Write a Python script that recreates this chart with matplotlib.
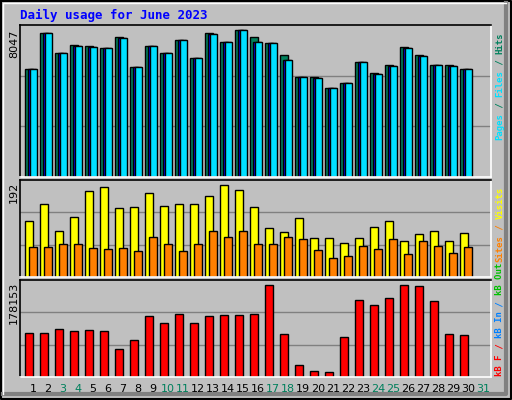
import matplotlib
matplotlib.use("Agg")
import matplotlib.pyplot as plt
import numpy as np

days = list(range(1, 31))
hits  = [5800, 7680, 6610, 7040, 6980, 6880, 7460, 5900, 6980, 6610, 7300, 6340,
         7680, 7200, 7840, 7460, 7140, 6500, 5330, 5330, 4740, 5010, 6130, 5540,
         5970, 6930, 6500, 5970, 5970, 5800]
files = [5800, 7680, 6610, 6990, 6930, 6880, 7410, 5900, 6980, 6610, 7300, 6340,
         7630, 7200, 7840, 7200, 7140, 6240, 5330, 5280, 4740, 5010, 6130, 5490,
         5920, 6880, 6450, 5970, 5920, 5750]
pages = files
visits = [112, 146, 92, 120, 172, 180, 138, 140, 168, 142, 146, 146,
          162, 184, 174, 140, 98, 90, 118, 78, 78, 68, 78, 100, 112, 72, 86, 92, 72, 88]
sites  = [59, 59, 66, 66, 57, 55, 57, 51, 79, 66, 51, 65,
          92, 79, 92, 65, 66, 79, 76, 53, 37, 41, 61, 55, 75, 45, 71, 61, 47, 59]
kbytes = [81000, 81000, 89700, 84700, 87800, 84700, 51100, 68000, 112600, 99500, 116300, 99500,
          112600, 114400, 114400, 116300, 170700, 79100, 21800, 10600, 8700, 74100, 143100, 133800,
          146900, 170700, 168800, 141300, 79100, 77200]
all_days = list(range(1, 32))
weekend = [3, 4, 10, 11, 17, 18, 24, 25, 31]

BG = "#c0c0c0"
W, H = 512, 400
fig = plt.figure(figsize=(W / 100, H / 100), dpi=100, facecolor=BG)

def px(x0, y0, x1, y1):
    return [x0 / W, 1 - y1 / H, (x1 - x0) / W, (y1 - y0) / H]

u = 1 / 15.0  # one pixel in day units
x0d = 1 - 5 * u
x1d = x0d + 471 * u
d = np.array(days)

def panel(y0, y1, ymax):
    ax = fig.add_axes(px(20, y0, 491, y1))
    ax.set_facecolor(BG)
    ax.set_xlim(x0d, x1d)
    ax.set_ylim(0, ymax)
    ax.set_xticks([]); ax.set_yticks([])
    for s in ax.spines.values():
        s.set_color("black"); s.set_linewidth(1.2)
    ax.spines["right"].set_color("white"); ax.spines["bottom"].set_color("white")
    for f in (1 / 3, 2 / 3):
        ax.axhline(ymax * f, color="#808080", lw=1, zorder=0)
    return ax

kw = dict(align="edge", edgecolor="black", linewidth=1)
top_max = 8047
ax1 = panel(25, 177, top_max * 1.01)
ax1.bar(d, hits, width=8 * u, color="#00805c", **kw)
ax1.bar(d + 3 * u, pages, width=8 * u, color="#0000ff", **kw)
ax1.bar(d + 5 * u, files, width=7 * u, color="#00e0ff", **kw)

ax2 = panel(180, 277, 192 * 1.01)
ax2.bar(d, visits, width=8 * u, color="#ffff00", **kw)
ax2.bar(d + 4 * u, sites, width=8 * u, color="#ff8000", **kw)

ax3 = panel(280, 377, 178153 * 1.01)
ax3.bar(d, kbytes, width=8 * u, color="#ff0000", **kw)

for x, day in zip(all_days, all_days):
    xf = (20 + (x - x0d) / u + 8) / W
    fig.text(xf, 1 - 389 / H, str(day), ha="center", va="center", fontsize=8,
             color="#00805c" if day in weekend else "black")

fig.text(20 / W, 1 - 15 / H, "Daily usage for June 2023", color="#0000ff",
         fontsize=9, fontweight="bold", family="DejaVu Sans Mono", va="center")

for lab, ytop in (("8047", 30), ("192", 182), ("178153", 282)):
    fig.text(14 / W, 1 - ytop / H, lab, rotation=90, ha="center", va="top", fontsize=8)

renderer = fig.canvas.get_renderer()

def side(parts, ybot):
    y = ybot
    for txt, col in parts:
        t = fig.text(500 / W, 1 - y / H, txt, rotation=90, ha="center", va="bottom",
                     color=col, fontsize=6.5, fontweight="bold", family="DejaVu Sans Mono")
        y -= t.get_window_extent(renderer).height

side([("Pages", "#00e0ff"), (" / ", "#00805c"), ("Files", "#00e0ff"), (" / ", "#00805c"), ("Hits", "#00805c")], 140)
side([("Sites", "#ff8000"), (" / ", "#ff8000"), ("Visits", "#ffff00")], 262)
side([("kB F", "#ff0000"), (" / ", "#ff0000"), ("kB In", "#0080ff"), (" / ", "#0080ff"), ("kB Out", "#00c000")], 376)

# outer frame
fr = fig.add_axes([0, 0, 1, 1], facecolor="none")
fr.set_xlim(0, W); fr.set_ylim(H, 0); fr.axis("off")
fr.plot([1, W - 1, W - 1, 1, 1], [1, 1, H - 1, H - 1, 1], color="black", lw=1.5)
fr.plot([3, W - 6, W - 6], [H - 6, H - 6, 3], color="#808080", lw=3)
fr.plot([3, 3, W - 6], [H - 6, 3, 3], color="white", lw=1)

fig.savefig("out.png", dpi=100, facecolor=BG)
